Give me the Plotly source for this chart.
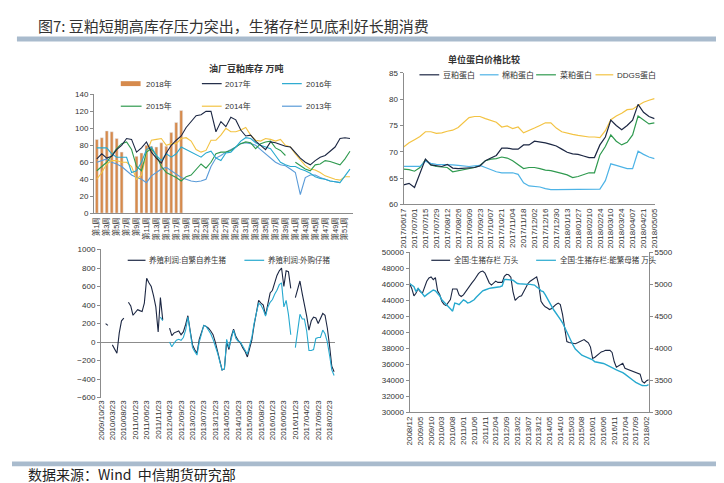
import pandas as pd
import plotly.graph_objects as go

W, H = 724, 483

# ---------------- 油厂豆粕库存 万吨 (weekly) ----------------
weeks = list(range(1, 53))
week_labels = ['第%d周' % w for w in weeks]
stock_2018 = [87, 89, 97, 96, 88, 72, None, None, 67, 71, 80, 79, 78, 83, 79, 95, 107, 121]
stock_2017 = [64, 70, 65, 67, 75, 80, 88, 87, 72, 77, 84, 72, 65, 59, 71, 80, 86, 91, 101, 108,
              115, 116, 120, 120, 96, 108, 102, 113, 110, 98, 91, 92, 85, 80, 75, 84, 83, 81, 79, 78,
              71, 65, 60, 57, 62, 66, 68, 73, 78, 88, 89, 88]
stock_2016 = [77, 77, 77, 70, 66, 66, 66, 48, 50, 60, 75, 78, 68, 62, 70, 66, 70, 78, 75, 72,
              69, 66, 71, 73, 65, 62, 71, 72, 78, 85, 89, 88, 83, 80, 78, 76, 68, 60, 57, 55,
              55, 52, 50, 47, 43, 41, 40, 38, 37, 36, 44, 52]
stock_2015 = [50, 55, 60, 68, 76, 82, 84, 75, 55, 50, 72, 76, 68, 55, 48, 45, 42, 38, 43, 45,
              52, 58, 53, 60, 70, 72, 72, 74, 78, 82, 84, 83, 76, 82, 84, 85, 77, 74, 68, None,
              60, 56, 52, 50, 57, 58, 62, 61, 59, 57, 64, 73]
stock_2014 = [40, 48, 58, 62, 62, 60, 60, 55, 40, 45, 70, 86, 87, 88, 80, 82, 82, 88, 89, 85,
              75, 72, 74, 86, 86, 92, 100, 96, 96, 98, 101, 92, 86, 85, 88, 87, 85, 87, 80, 78,
              70, 63, 56, 52, 51, 48, 44, 42, 40, 39, 43, 43]
stock_2013 = [60, 62, 64, 60, 58, 55, 50, 45, 42, 40, 36, 44, 48, 52, 54, 50, 45, 42, 40, 38,
              37, 38, 40, 55, 65, 68, 72, 75, 78, 82, 83, 82, 80, 75, 70, 66, 60, 57, 56, 52,
              48, 22, 42, 45, 45, 42, 40, 38, 37, 36, None, None]

# ---------------- 单位蛋白价格比较 (weekly) ----------------
protein_dates = pd.date_range('2017-06-17', periods=47, freq='7D')
soymeal = [63.7, 64.0, 63.2, 66.0, 68.6, 67.5, 67.3, 67.2, 67.6, 66.9,
           66.8, 66.9, 67.0, 67.0, 67.3, 68.3, 68.8, 69.3, 70.7, 70.7,
           70.5, 70.5, 71.3, 71.3, 72.0, 71.9, 71.7, 71.4, 71.1, 70.5,
           69.9, 69.6, 69.5, 69.2, 68.9, 68.9, 71.3, 72.8, 76.0, 75.0,
           74.2, 75.0, 76.0, 79.0, 77.5, 76.7, 76.3]
cottonmeal = [67.2, 67.2, 67.2, 67.2, 68.2, 67.8, 67.6, 67.6, 67.6, 67.5,
              67.4, 67.3, 67.2, 67.3, 67.4, 67.0, 66.6, 66.2, 66.0, 66.0,
              66.0, 65.7, 64.1, 63.5, 63.4, 63.3, 63.0, 62.8, 62.8, 62.8,
              62.8, 62.8, 62.8, 62.8, 62.9, 62.9, 62.9, 64.5, 67.7, 67.4,
              67.1, 66.8, 66.8, 70.1, 69.5, 69.0, 68.7]
rapemeal = [66.7, 66.6, 66.3, 67.0, 68.5, 67.5, 67.2, 67.1, 67.0, 66.2,
            66.4, 66.7, 66.9, 67.0, 67.4, 68.3, 68.6, 68.7, 69.0, 68.8,
            68.3, 67.5, 66.8, 67.0, 67.0, 66.8, 66.5, 66.4, 66.2, 65.9,
            65.6, 65.1, 65.3, 65.7, 66.0, 66.0, 69.4, 71.0, 73.2, 72.0,
            71.3, 71.8, 73.2, 76.8, 76.0, 75.3, 75.5]
ddgs = [70.9, 71.7, 72.3, 72.9, 73.8, 73.8, 73.5, 73.6, 73.9, 74.1,
        74.6, 75.5, 76.5, 76.7, 76.7, 76.3, 75.9, 75.6, 74.7, 74.9,
        74.4, 74.7, 73.6, 74.0, 74.5, 75.0, 75.5, 75.5, 74.5, 73.8,
        73.5, 73.3, 73.1, 72.9, 72.8, 72.8, 72.7, 74.0, 76.1, 76.8,
        77.3, 78.0, 78.1, 78.8, 79.4, 79.8, 80.1]

# ---------------- 养殖利润 (monthly, from 2009/10) ----------------
profit_self = [None, None, 200, 180, None, -30, -80, -120, 100, 230,
               260, None, 430, 390, 290, 320, 350, 340, 330, 420,
               690, 640, 600, 500, 380, 110, 480, 240, None, None,
               150, 70, 100, 110, 120, 80, 110, 190, 285, 120,
               -30, -80, -120, 30, 120, 180, 170, 150, 120, 80,
               0, -100, -200, -300, -290, 0, -80, 60, 140, 60,
               20, -10, -60, -100, -160, -60, 20, 180, 300, 450,
               420, 400, 290, 420, 530, 560, 640, 720, 770, 800,
               600, 770, 760, 580, None, 480, 560, 660, 520, 420,
               280, 130, 230, 270, 260, 200, 250, 310, 290, 150,
               -50, -260, -320]
profit_buy = [None] * 26 + [
    270, 230, None, None, 0, -50, -10, 20, 30, 20,
    50, 130, 270, 90, -60, -100, -140, 0, 100, 180,
    170, 130, 90, 30, -40, -120, -220, -300, -290, 30,
    -60, 50, 130, 40, 10, 0, -40, -80, -130, -40,
    50, 200, 300, 420, 400, 350, 280, 380, 430, 460,
    520, 560, 620, 640, 380, 450, 300, 80, None, -60,
    150, 300, 250, 250, 120, -90, -90, -80, 40, 50,
    50, 130, 90, 0, -150, -300, -360]
profit_dates = [pd.Timestamp(2009, 10, 23) + pd.DateOffset(months=i) for i in range(len(profit_self))]

# ---------------- 生猪存栏 / 能繁母猪 万头 (monthly, from 2008/12) ----------------
hog_stock = [46120, 45500, 44570, 44900, 45450, 45100, 44900, 45700, 46400, 46800,
             46940, 46600, 46860, 45200, 44700, 43900, 43500, 43350, 43700, 44100,
             45430, 45450, 45430, 44700, 44490, 44700, 45100, 45500, 45920, 46200,
             46530, 47000, 47350, 47600, 47670, 47430, 46740, 46200, 45920, 46120,
             46410, 46250, 46210, 46250, 47000, 47270, 47200, 46900, 45100, 44000,
             44290, 44500, 44570, 45100, 45600, 46120, 46400, 46610, 46800, 46940,
             45920, 43880, 43470, 43200, 43060, 42860, 43000, 43270, 43500, 43670,
             43470, 42250, 40410, 38860, 38750, 38700, 38650, 38580, 38700, 38860,
             39000, 39110, 38900, 38700, 38170, 36740, 36900, 37150, 37400, 37560,
             37650, 37760, 37760, 37760, 37500, 36330, 35640, 35800, 35900, 36130,
             35510, 35400, 35310, 35150, 35100, 35020, 34850, 34780, 33880, 33680,
             33960, 34090]
sow_stock = [5015, 4990, 4964, 4888, 4939, 4900, 4860, 4811, 4840, 4862,
             4880, 4913, 4900, 4862, 4820, 4760, 4720, 4690, 4658, 4620,
             4582, 4709, 4700, 4684, 4720, 4760, 4740, 4709, 4720, 4735,
             4760, 4800, 4837, 4870, 4900, 4913, 4930, 4939, 4945, 4949,
             4949, 4955, 4964, 4975, 5077, 5077, 5077, 5070, 5066, 5040,
             5015, 5010, 5005, 5005, 5005, 5000, 5000, 4995, 4990, 4960,
             4939, 4900, 4888, 4840, 4786, 4720, 4658, 4600, 4556, 4500,
             4454, 4400, 4327, 4250, 4199, 4120, 4046, 3990, 3954, 3920,
             3893, 3880, 3867, 3855, 3842, 3820, 3791, 3785, 3781, 3775,
             3765, 3750, 3730, 3715, 3699, 3680, 3663, 3650, 3638, 3620,
             3597, 3575, 3546, 3520, 3495, 3470, 3450, 3434, 3420, 3418,
             3418, 3434]
hog_dates = [pd.Timestamp(2008, 12, 1) + pd.DateOffset(months=i) for i in range(len(hog_stock))]

NAVY = '#1c2743'
TEAL = '#27a9cf'
LBLUE = '#4db3e6'
GREEN = '#2f9a4f'
GOLD = '#f3c343'
MBLUE = '#5a9bd8'
LAV = '#9db6df'
ORANGE = '#d68a4c'
AXC = '#8c8c8c'
FONT = 'Liberation Sans, Noto Sans CJK SC, sans-serif'


def px(x):
    return x / W


def py(y):
    return 1 - y / H


fig = go.Figure()

# top-left
fig.add_trace(go.Bar(x=weeks[:len(stock_2018)], y=stock_2018, marker_color=ORANGE,
                     width=0.6, xaxis='x', yaxis='y'))
for s, c in [(stock_2013, MBLUE), (stock_2014, GOLD), (stock_2015, GREEN),
             (stock_2016, TEAL), (stock_2017, NAVY)]:
    fig.add_trace(go.Scatter(x=weeks, y=s, mode='lines', line=dict(color=c, width=1.1),
                             xaxis='x', yaxis='y'))

# top-right
for s, c in [(ddgs, GOLD), (rapemeal, GREEN), (cottonmeal, LBLUE), (soymeal, NAVY)]:
    fig.add_trace(go.Scatter(x=protein_dates, y=s, mode='lines', line=dict(color=c, width=1.2),
                             xaxis='x2', yaxis='y2'))

# bottom-left
fig.add_trace(go.Scatter(x=profit_dates, y=profit_self, mode='lines',
                         line=dict(color=NAVY, width=1.1), xaxis='x3', yaxis='y3'))
fig.add_trace(go.Scatter(x=profit_dates, y=profit_buy, mode='lines',
                         line=dict(color=TEAL, width=1.1), xaxis='x3', yaxis='y3'))

# bottom-right
fig.add_trace(go.Scatter(x=hog_dates, y=hog_stock, mode='lines',
                         line=dict(color=NAVY, width=1.1), xaxis='x4', yaxis='y4'))
fig.add_trace(go.Scatter(x=hog_dates, y=sow_stock, mode='lines',
                         line=dict(color=TEAL, width=1.4), xaxis='x4', yaxis='y5'))

tick = dict(size=8, color='#333333', family=FONT)
base_y = dict(showgrid=False, zeroline=False, showline=True, linecolor=AXC, linewidth=1,
              ticks='outside', ticklen=3, tickcolor=AXC, tickfont=tick, tickformat='d')
base_x = dict(showgrid=False, zeroline=False, showline=True, linecolor=AXC, linewidth=1,
              ticks='', tickangle=-90, tickfont=tick)

fig.update_layout(
    width=W, height=H, margin=dict(l=0, r=0, t=0, b=0),
    paper_bgcolor='white', plot_bgcolor='white', showlegend=False,
    font=dict(family=FONT, color='#333333'),
    xaxis=dict(base_x, domain=[px(83), px(345)], anchor='y', range=[0.45, 52.65],
               tickvals=weeks[::2], ticktext=week_labels[::2], tickfont=dict(size=7.5, color='#333333')),
    yaxis=dict(base_y, domain=[py(205), py(84)], anchor='x', range=[0, 140], dtick=20),
    xaxis2=dict(base_x, domain=[px(396), px(650)], anchor='y2',
                range=['2017-06-17', '2018-05-05 12:00'], tick0='2017-06-17',
                dtick=14 * 86400000, tickformat='%Y/%m/%d'),
    yaxis2=dict(base_y, domain=[py(196), py(62)], anchor='x2', range=[60, 85], dtick=5),
    xaxis3=dict(base_x, domain=[px(90), px(327)], anchor='y3', showline=False,
                range=['2009-10-23', '2018-05-10'], tick0='2009-10-23', dtick='M5',
                tickformat='%Y/%m/%d'),
    yaxis3=dict(base_y, domain=[py(393), py(242)], anchor='x3', range=[-600, 1000], dtick=200,
                zeroline=True, zerolinecolor=AXC, zerolinewidth=1),
    xaxis4=dict(base_x, domain=[px(402), px(644)], anchor='y4',
                range=['2008-12-01', '2018-03-05'], tick0='2008-12-01', dtick='M5',
                tickformat='%Y/%m'),
    yaxis4=dict(base_y, domain=[py(408), py(245)], anchor='x4', range=[30000, 50000], dtick=2000),
    yaxis5=dict(base_y, overlaying='y4', side='right', anchor='x4', range=[3000, 5500], dtick=500),
)

# header / footer bands
fig.add_shape(type='rect', xref='paper', yref='paper', x0=px(5), x1=1, y0=py(30), y1=py(25),
              fillcolor='#a9bbcd', line_width=0)
fig.add_shape(type='rect', xref='paper', yref='paper', x0=0, x1=px(720), y0=py(463), y1=py(458),
              fillcolor='#a9bbcd', line_width=0)
fig.add_annotation(x=px(24), y=py(14), xref='paper', yref='paper', xanchor='left', yanchor='middle',
                   text='图7: 豆粕短期高库存压力突出，生猪存栏见底利好长期消费', showarrow=False,
                   font=dict(size=15, color='#333333', family='Noto Sans CJK SC'))
fig.add_annotation(x=px(14), y=py(471), xref='paper', yref='paper', xanchor='left', yanchor='middle',
                   text='数据来源：Wind  中信期货研究部', showarrow=False,
                   font=dict(size=14, color='#222222', family='Noto Sans CJK SC'))

# panel titles
fig.add_annotation(x=px(197), y=py(50), xref='paper', yref='paper', text='<b>油厂豆粕库存 万吨</b>',
                   showarrow=False, font=dict(size=9, color='#333333'))
fig.add_annotation(x=px(516), y=py(41), xref='paper', yref='paper', text='<b>单位蛋白价格比较</b>',
                   showarrow=False, font=dict(size=9, color='#333333'))


def key(x0, x1, y, color, text, tx, bar=False, size=8):
    if bar:
        fig.add_shape(type='rect', xref='paper', yref='paper', x0=px(x0), x1=px(x1),
                      y0=py(y + 2.5), y1=py(y - 2.5), fillcolor=color, line_width=0)
    else:
        fig.add_shape(type='line', xref='paper', yref='paper', x0=px(x0), x1=px(x1),
                      y0=py(y), y1=py(y), line=dict(color=color, width=1.2))
    fig.add_annotation(x=px(tx), y=py(y), xref='paper', yref='paper', xanchor='left',
                       yanchor='middle', text=text, showarrow=False,
                       font=dict(size=size, color='#333333'))


key(110, 130, 73, ORANGE, '2018年', 133, bar=True)
key(192, 212, 73, NAVY, '2017年', 213)
key(273, 293, 73, TEAL, '2016年', 295)
key(110, 131, 96, GREEN, '2015年', 133)
key(192, 212, 96, GOLD, '2014年', 213)
key(273, 293, 96, MBLUE, '2013年', 295)

key(412, 432, 64, NAVY, '豆粕蛋白', 434)
key(473, 492, 64, LBLUE, '棉粕蛋白', 493)
key(530, 550, 64, GREEN, '菜粕蛋白', 552)
key(590, 608, 64, GOLD, 'DDGS蛋白', 610)

key(117, 135, 253, NAVY, '养殖利润:自繁自养生猪', 137, size=7.5)
key(235, 255, 253, TEAL, '养殖利润:外购仔猪', 257, size=7.5)

key(424, 443, 253, NAVY, '全国:生猪存栏 万头', 445, size=7.5)
key(530, 550, 253, TEAL, '全国:生猪存栏:能繁母猪 万头', 552, size=7.5)

fig.write_html('out.html')
